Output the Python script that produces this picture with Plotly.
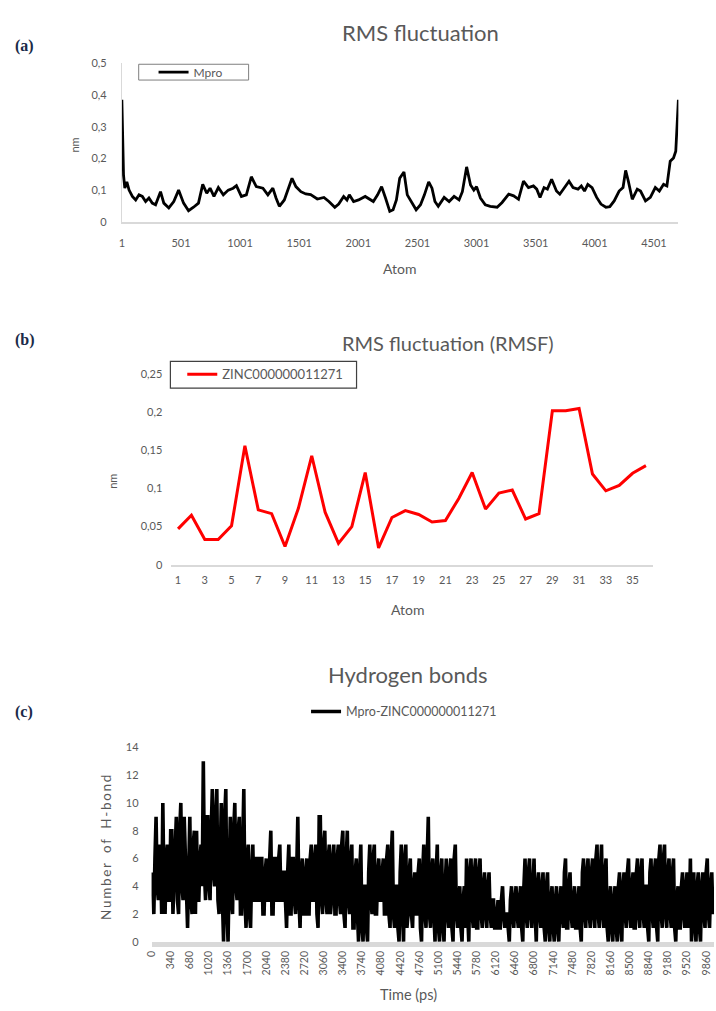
import plotly.graph_objects as go

W, H = 716, 1011


def fx(px):
    return px / W


def fy(py):
    return 1 - py / H


# ---------------- (a) RMS fluctuation, Mpro ----------------
atoms_a = [1, 8, 15, 26, 43, 62, 90, 118, 146, 174, 202, 230, 258, 286, 328, 356,
           398, 440, 481, 523, 565, 607, 649, 685, 719, 747, 780, 817, 859, 901,
           942, 970, 1012, 1054, 1096, 1138, 1194, 1236, 1278, 1305, 1333, 1375,
           1403, 1440, 1473, 1515, 1557, 1598, 1654, 1710, 1752, 1802, 1835, 1877,
           1905, 1925, 1961, 2003, 2059, 2100, 2128, 2164, 2198, 2231, 2267, 2295,
           2323, 2351, 2387, 2415, 2448, 2490, 2527, 2560, 2596, 2624, 2649, 2677,
           2727, 2769, 2811, 2853, 2881, 2917, 2950, 2978, 3001, 3034, 3075, 3117,
           3175, 3217, 3273, 3315, 3356, 3398, 3440, 3482, 3510, 3538, 3572, 3600,
           3636, 3677, 3705, 3747, 3783, 3817, 3859, 3887, 3914, 3942, 3978, 4017,
           4053, 4095, 4128, 4165, 4207, 4240, 4262, 4285, 4318, 4360, 4388, 4430,
           4471, 4513, 4547, 4583, 4611, 4639, 4667, 4686, 4703, 4708]
rmsf_a = [0.385, 0.20, 0.148, 0.107, 0.127, 0.101, 0.081, 0.070, 0.086, 0.081,
          0.065, 0.076, 0.060, 0.055, 0.096, 0.060, 0.045, 0.065, 0.101, 0.060,
          0.036, 0.047, 0.060, 0.119, 0.091, 0.107, 0.081, 0.109, 0.086, 0.101,
          0.107, 0.115, 0.081, 0.086, 0.143, 0.112, 0.107, 0.086, 0.107, 0.076,
          0.050, 0.070, 0.101, 0.138, 0.112, 0.096, 0.089, 0.087, 0.073, 0.078,
          0.065, 0.047, 0.057, 0.081, 0.070, 0.086, 0.065, 0.070, 0.081, 0.070,
          0.065, 0.086, 0.112, 0.076, 0.034, 0.039, 0.070, 0.138, 0.158, 0.086,
          0.065, 0.039, 0.055, 0.086, 0.127, 0.107, 0.065, 0.050, 0.078, 0.065,
          0.081, 0.070, 0.096, 0.174, 0.117, 0.101, 0.112, 0.076, 0.055, 0.050,
          0.047, 0.062, 0.088, 0.083, 0.072, 0.129, 0.109, 0.114, 0.104, 0.078,
          0.109, 0.104, 0.135, 0.098, 0.088, 0.109, 0.129, 0.109, 0.104, 0.114,
          0.098, 0.119, 0.109, 0.078, 0.057, 0.047, 0.049, 0.067, 0.098, 0.109,
          0.163, 0.129, 0.072, 0.104, 0.098, 0.067, 0.078, 0.109, 0.098, 0.119,
          0.114, 0.192, 0.202, 0.223, 0.347, 0.385]
a_xticks = [1, 501, 1001, 1501, 2001, 2501, 3001, 3501, 4001, 4501]
a_yticks = [0, 0.1, 0.2, 0.3, 0.4, 0.5]
a_ylabels = ["0", "0,1", "0,2", "0,3", "0,4", "0,5"]

# ---------------- (b) RMSF, ligand ----------------
atoms_b = list(range(1, 37))
rmsf_b = [0.047, 0.065, 0.033, 0.033, 0.051, 0.156, 0.072, 0.067, 0.024, 0.074,
          0.143, 0.069, 0.028, 0.050, 0.121, 0.022, 0.062, 0.071, 0.066, 0.056,
          0.058, 0.087, 0.121, 0.073, 0.094, 0.098, 0.060, 0.067, 0.202, 0.202,
          0.205, 0.119, 0.097, 0.104, 0.120, 0.130]
b_xticks = list(range(1, 36, 2))
b_yticks = [0, 0.05, 0.1, 0.15, 0.2, 0.25]
b_ylabels = ["0", "0,05", "0,1", "0,15", "0,2", "0,25"]

# ---------------- (c) Hydrogen bonds (every 20 ps) ----------------
time_c = list(range(0, 10001, 20))
hbonds_c = [
    5, 3, 2, 6, 9, 4, 3, 7, 6, 2,
    10, 4, 2, 6, 7, 3, 3, 8, 8, 2,
    4, 7, 9, 3, 2, 8, 10, 4, 3, 9,
    6, 2, 1, 5, 9, 3, 2, 7, 8, 2,
    8, 3, 3, 6, 7, 4, 13, 5, 3, 9,
    9, 4, 3, 8, 11, 5, 4, 9, 11, 3,
    2, 6, 10, 3, 0, 9, 11, 2, 0, 5,
    9, 3, 2, 8, 10, 4, 3, 8, 9, 2,
    2, 7, 11, 3, 1, 6, 7, 2, 1, 5,
    7, 3, 3, 6, 6, 3, 3, 6, 6, 2,
    2, 5, 6, 3, 3, 6, 8, 2, 2, 6,
    6, 3, 3, 6, 7, 3, 3, 5, 5, 3,
    1, 5, 7, 2, 2, 6, 6, 3, 2, 5,
    9, 3, 1, 5, 6, 2, 2, 5, 6, 2,
    2, 6, 7, 3, 3, 6, 7, 2, 1, 9,
    9, 3, 2, 7, 8, 3, 2, 6, 7, 2,
    3, 6, 7, 2, 2, 6, 7, 3, 2, 7,
    8, 2, 1, 6, 8, 3, 2, 6, 7, 1,
    1, 5, 6, 2, 0, 5, 7, 1, 0, 4,
    4, 1, 0, 5, 7, 3, 2, 6, 7, 2,
    2, 5, 6, 3, 3, 5, 6, 2, 2, 6,
    7, 2, 1, 6, 8, 2, 1, 4, 4, 1,
    0, 5, 7, 2, 0, 6, 7, 1, 2, 5,
    6, 2, 1, 4, 5, 2, 2, 5, 6, 1,
    0, 5, 7, 2, 1, 6, 9, 2, 1, 5,
    6, 2, 0, 5, 7, 1, 0, 5, 6, 1,
    0, 4, 6, 2, 1, 5, 6, 1, 0, 6,
    7, 2, 1, 3, 4, 1, 0, 3, 4, 1,
    6, 2, 0, 5, 6, 2, 1, 5, 6, 1,
    1, 5, 6, 2, 1, 4, 5, 2, 1, 4,
    5, 2, 1, 3, 3, 1, 1, 2, 3, 1,
    1, 3, 4, 2, 1, 2, 2, 1, 0, 3,
    4, 2, 1, 3, 4, 2, 1, 3, 4, 1,
    0, 4, 6, 2, 1, 5, 6, 2, 1, 4,
    6, 2, 0, 4, 5, 2, 1, 4, 5, 1,
    0, 4, 5, 1, 0, 3, 4, 1, 0, 3,
    4, 1, 0, 3, 4, 2, 1, 5, 6, 1,
    1, 4, 5, 2, 1, 3, 4, 1, 1, 3,
    4, 1, 0, 5, 6, 2, 1, 5, 6, 2,
    1, 5, 6, 2, 1, 6, 7, 2, 1, 5,
    7, 2, 1, 5, 6, 1, 0, 3, 4, 1,
    0, 3, 4, 1, 0, 4, 5, 1, 0, 4,
    5, 2, 1, 5, 6, 2, 1, 4, 5, 1,
    1, 5, 6, 2, 1, 5, 6, 2, 1, 4,
    4, 1, 0, 5, 6, 2, 1, 5, 6, 1,
    0, 6, 7, 2, 1, 6, 7, 2, 1, 5,
    6, 2, 1, 5, 6, 1, 0, 3, 4, 1,
    1, 4, 5, 2, 1, 4, 5, 1, 2, 6,
    0, 4, 5, 1, 0, 4, 5, 1, 0, 4,
    5, 2, 1, 5, 6, 2, 1, 4, 5, 2,
    3]
c_xticks = list(range(0, 9861, 340))
c_yticks = list(range(0, 15, 2))

GRAY = "#595959"
AXIS = "#d9d9d9"
FONT = "Lato"

fig = go.Figure()
fig.add_trace(go.Scatter(x=atoms_a, y=rmsf_a, mode="lines", name="Mpro",
                         line=dict(color="black", width=2.8),
                         xaxis="x", yaxis="y", legend="legend"))
fig.add_trace(go.Scatter(x=atoms_b, y=rmsf_b, mode="lines", name="ZINC000000011271",
                         line=dict(color="#ff0000", width=3),
                         xaxis="x2", yaxis="y2", legend="legend2"))
fig.add_trace(go.Scatter(x=time_c, y=hbonds_c, mode="lines", name="Mpro-ZINC000000011271",
                         line=dict(color="black", width=3.6),
                         xaxis="x3", yaxis="y3", legend="legend3"))

tickfont = dict(family=FONT, size=11, color=GRAY)
common = dict(showgrid=False, zeroline=False, ticks="", tickfont=tickfont, fixedrange=True)

fig.update_layout(
    width=W, height=H,
    margin=dict(l=0, r=0, t=0, b=0),
    paper_bgcolor="white", plot_bgcolor="white",
    font=dict(family=FONT, color=GRAY),
    xaxis=dict(domain=[fx(116), fx(678)], range=[1, 4708], anchor="y",
               tickvals=a_xticks, ticktext=[str(v) for v in a_xticks],
               showline=True, linecolor=AXIS, linewidth=2, ticklabelstandoff=10, **common),
    yaxis=dict(domain=[fy(218), fy(57)], range=[0, 0.5], anchor="x",
               tickvals=a_yticks, ticktext=a_ylabels,
               showline=True, linecolor=AXIS, linewidth=1, ticklabelstandoff=12, **common),
    xaxis2=dict(domain=[fx(166), fx(652)], range=[0.5, 36.5], anchor="y2",
                tickvals=b_xticks, ticktext=[str(v) for v in b_xticks],
                showline=True, linecolor=AXIS, linewidth=2, ticklabelstandoff=4, **common),
    yaxis2=dict(domain=[fy(565), fy(372)], range=[0, 0.25], anchor="x2",
                tickvals=b_yticks, ticktext=b_ylabels, showline=False,
                ticklabelstandoff=8, **common),
    xaxis3=dict(domain=[fx(146), fx(714)], range=[0, 10000], anchor="y3",
                tickvals=c_xticks, ticktext=[str(v) for v in c_xticks], tickangle=-90,
                showline=True, linecolor=AXIS, linewidth=5,
                **{**common, "tickfont": dict(family=FONT, size=10.5, color=GRAY)}),
    yaxis3=dict(domain=[fy(947), fy(750)], range=[0, 14], anchor="x3",
                tickvals=c_yticks, ticktext=[str(v) for v in c_yticks], showline=False,
                ticklabelstandoff=12, **common),
    legend=dict(x=fx(148), y=fy(66), xanchor="left", yanchor="middle",
                bgcolor="rgba(0,0,0,0)", font=dict(family=FONT, size=12, color=GRAY)),
    legend2=dict(x=fx(177), y=fy(372), xanchor="left", yanchor="middle",
                 bgcolor="rgba(0,0,0,0)", font=dict(family=FONT, size=13, color=GRAY)),
    legend3=dict(x=fx(302), y=fy(714), xanchor="left", yanchor="middle",
                 bgcolor="rgba(0,0,0,0)", font=dict(family=FONT, size=12.5, color=GRAY)),
    showlegend=True,
)

shapes = [
    dict(type="rect", xref="paper", yref="paper", x0=fx(133), x1=fx(244), y0=fy(74), y1=fy(58),
         line=dict(color="#7f7f7f", width=1)),
    dict(type="rect", xref="paper", yref="paper", x0=fx(165), x1=fx(353), y0=fy(386), y1=fy(359),
         line=dict(color="#404040", width=1.2)),
]
fig.update_layout(shapes=shapes)

ann = []
lab_font = dict(family="Liberation Serif", size=16, color="#1b2a49")


def add(text, x, y, font, xanchor="center", **kw):
    ann.append(dict(text=text, x=fx(x), y=fy(y), xref="paper", yref="paper",
                    showarrow=False, font=font, xanchor=xanchor, yanchor="middle", **kw))


add("RMS fluctuation", 418, 26, dict(family=FONT, size=22, color=GRAY))
add("RMS fluctuation (RMSF)", 445, 340, dict(family=FONT, size=20, color=GRAY))
add("Hydrogen bonds", 405, 676, dict(family=FONT, size=22, color=GRAY))
add("<b>(a)</b>", 6, 40, lab_font, xanchor="left")
add("<b>(b)</b>", 6, 337, lab_font, xanchor="left")
add("<b>(c)</b>", 6, 714, lab_font, xanchor="left")
add("Atom", 397, 265, dict(family=FONT, size=14, color=GRAY))
add("nm", 68, 140, dict(family=FONT, size=11, color=GRAY), textangle=-90)
add("Atom", 405, 610, dict(family=FONT, size=14, color=GRAY))
add("nm", 107, 480, dict(family=FONT, size=11, color=GRAY), textangle=-90)
add("Time (ps)", 405, 1000, dict(family=FONT, size=14.5, color=GRAY))
ts = "\u2009"
ylab_c = "   ".join(ts.join(list(w)) for w in ["Number", "of", "H-bond"])
add(ylab_c, 100, 852, dict(family=FONT, size=13.5, color=GRAY), textangle=-90)
fig.update_layout(annotations=ann)

fig.write_html("out.html", config={"displayModeBar": False},
               post_script="document.body.style.margin='0';document.body.style.padding='0';"
                           "document.documentElement.style.overflow='hidden';")
